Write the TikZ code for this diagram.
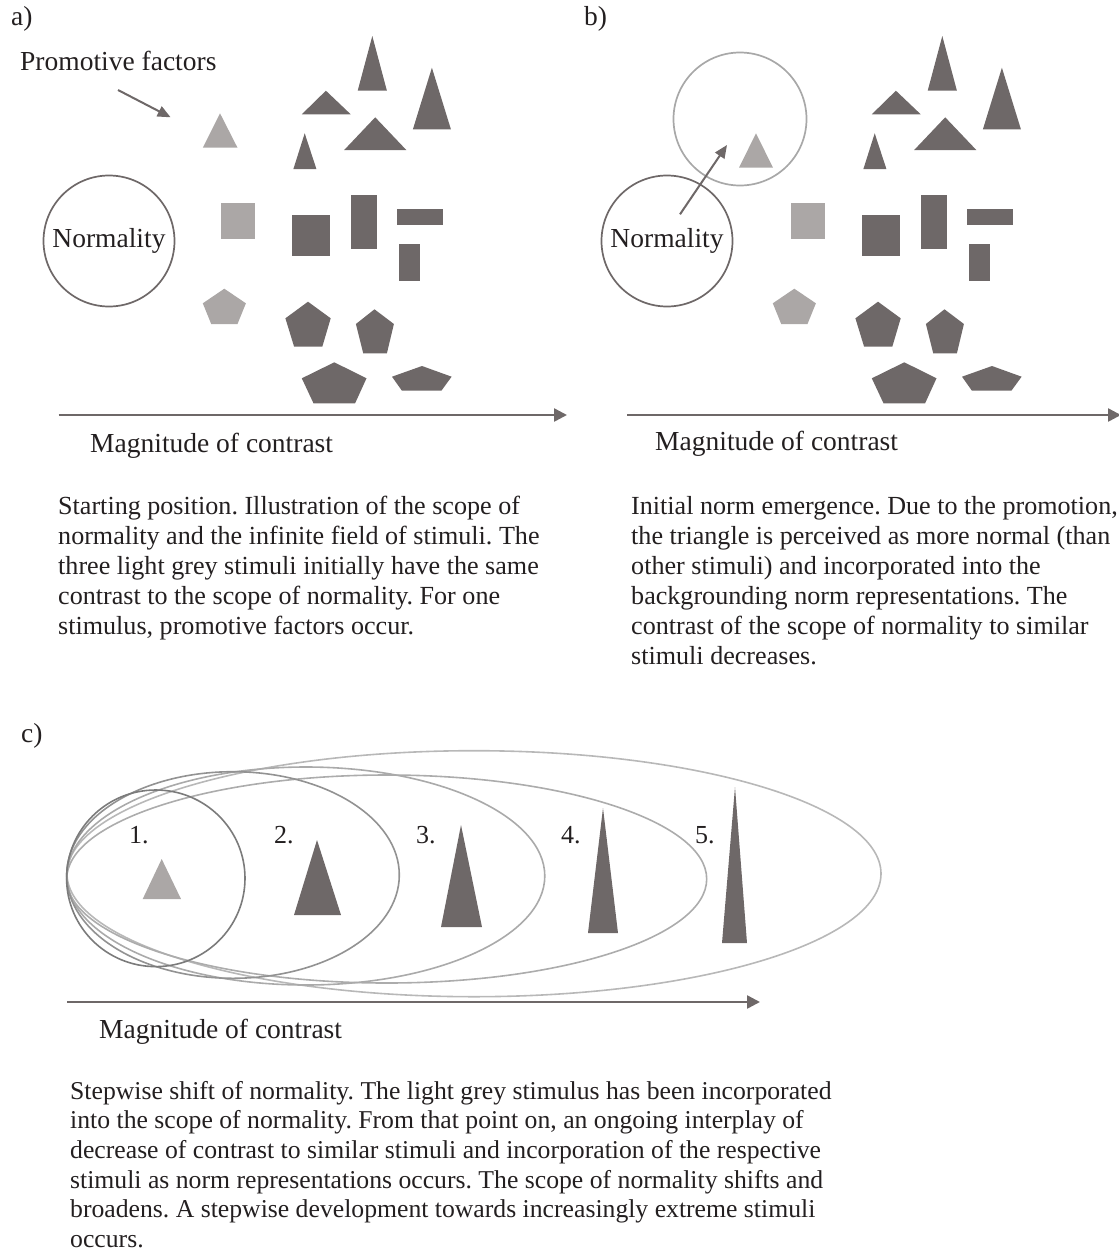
\documentclass[tikz,border=0pt]{standalone}
\usepackage{fontspec}
\setmainfont{Liberation Serif}
\usepackage{tikz}
\usetikzlibrary{arrows.meta,positioning}
\frenchspacing
\definecolor{ink}{HTML}{231F20}
\definecolor{stimdark}{HTML}{6E6868}
\definecolor{stimlight}{HTML}{ABA7A6}
\definecolor{scopegray}{HTML}{A8A8A8}
\definecolor{ringA}{HTML}{7B7B7B}
\definecolor{ringB}{HTML}{929292}
\definecolor{ringC}{HTML}{AAAAAA}
\definecolor{ringD}{HTML}{ACACAC}
\definecolor{ringE}{HTML}{B8B8B8}
\tikzset{
  darkstim/.style={fill=stimdark},
  lightstim/.style={fill=stimlight},
  normscope/.style={draw=stimdark,line width=1.7pt,circle,inner sep=0pt,
                    minimum size=131pt,
                    font=\fontsize{27.5}{30}\selectfont,text=ink},
  shiftscope/.style={draw=scopegray,line width=1.7pt,circle,inner sep=0pt,
                     minimum size=133pt},
  axisarr/.style={-{Triangle[length=13pt,width=13pt]},draw=stimdark,line width=2.5pt},
  pointarr/.style={-{Triangle[length=13pt,width=11pt]},draw=stimdark,line width=2pt},
  ring/.style={draw=#1,line width=1.6pt},
  panellabel/.style={anchor=base west,inner sep=0pt,font=\fontsize{27.5}{30}\selectfont,text=ink},
  axislabel/.style={anchor=base west,inner sep=0pt,font=\fontsize{27.5}{30}\selectfont,text=ink},
  steplabel/.style={anchor=base west,inner sep=0pt,font=\fontsize{26}{30}\selectfont,text=ink},
  caption/.style={anchor=north west,align=left,inner sep=0pt,
                  font=\fontsize{26.1}{30}\selectfont,text=ink}
}
\newcommand\stimfield{%
  \fill[darkstim] (372.3,36) -- (386.9,90.7) -- (357.7,90.7) -- cycle;
  \fill[darkstim] (325.9,90.7) -- (350.7,114.3) -- (301.8,114.3) -- cycle;
  \fill[darkstim] (431.9,67.7) -- (450.9,129.3) -- (412.9,129.3) -- cycle;
  \fill[darkstim] (375.2,117.3) -- (406.3,150) -- (344.2,150) -- cycle;
  \fill[darkstim] (304.7,133.3) -- (316.4,169) -- (293.4,169) -- cycle;
  \fill[lightstim] (221,202.7) rectangle (255.4,239.3);
  \fill[darkstim] (291.6,215) rectangle (329.6,255.7);
  \fill[darkstim] (350.7,195) rectangle (377,248.7);
  \fill[darkstim] (397.2,209) rectangle (443.2,224.7);
  \fill[darkstim] (399,244) rectangle (420.2,280.7);
  \fill[lightstim] (224.3,288.7) -- (245.9,303.3) -- (237.5,324) -- (211.2,324) -- (202.8,303.3) -- cycle;
  \fill[darkstim] (308,301.7) -- (330.7,318.3) -- (322.3,346.7) -- (294.1,346.7) -- (285.4,318.3) -- cycle;
  \fill[darkstim] (374.5,309.3) -- (393.9,324) -- (386.9,353.3) -- (363.2,353.3) -- (355.9,324) -- cycle;
  \fill[darkstim] (334.3,362.3) -- (366.5,378.3) -- (355.1,403.3) -- (313.5,403.3) -- (301.8,378.3) -- cycle;
  \fill[darkstim] (422,366) -- (451.6,376.7) -- (441.4,390.7) -- (401.9,390.7) -- (392,376.7) -- cycle;
}

\begin{document}
\begin{tikzpicture}[x=1pt,y=-1pt]
  \useasboundingbox (0,0) rectangle (1119,1253);

  % a) starting position
  \node[panellabel] (laba) at (11,25) {a)};
  \node[panellabel] (promo) at (20,70) {Promotive factors};
  \coordinate (promotail) at (118,90);
  \coordinate (promotip) at (170.6,117.3);
  \draw[pointarr] (promotail) -- (promotip);
  \fill[lightstim] (220,113.3) -- (237.5,147.7) -- (202.8,147.7) -- cycle;
  \stimfield
  \node[normscope] (norma) at (109,241) {Normality};
  \coordinate (axisa0) at (58.5,415);
  \coordinate (axisa1) at (567,415);
  \draw[axisarr] (axisa0) -- (axisa1);
  \node[axislabel] (magna) at (90,452) {Magnitude of contrast};
  \node[caption] (capa) at (58,496)
    {Starting position. Illustration of the scope of\\
     normality and the infinite field of stimuli. The\\
     three light grey stimuli initially have the same\\
     contrast to the scope of normality. For one\\
     stimulus, promotive factors occur.};

  % b) initial norm emergence
  \node[panellabel] (labb) at (584,25) {b)};
  \begin{scope}[xshift=570pt]
    \stimfield
  \end{scope}
  \node[shiftscope] (shiftb) at (740,119) {};
  \fill[lightstim] (756,133.3) -- (773,167.7) -- (739,167.7) -- cycle;
  \node[normscope] (normb) at (667,241) {Normality};
  \coordinate (shifttail) at (680,214.3);
  \coordinate (shifttip) at (727,145);
  \draw[pointarr] (shifttail) -- (shifttip);
  \coordinate (axisb0) at (627.4,415);
  \coordinate (axisb1) at (1121,415);
  \draw[axisarr] (axisb0) -- (axisb1);
  \node[axislabel] (magnb) at (655,450) {Magnitude of contrast};
  \node[caption] (capb) at (631,496)
    {Initial norm emergence. Due to the promotion,\\
     the triangle is perceived as more normal (than\\
     other stimuli) and incorporated into the\\
     backgrounding norm representations. The\\
     contrast of the scope of normality to similar\\
     stimuli decreases.};

  % c) stepwise shift
  \node[panellabel] (labc) at (21,742) {c)};
  \draw[ring=ringE] (474,873.7) ellipse [x radius=407, y radius=123];
  \draw[ring=ringD] (386.7,879) ellipse [x radius=320, y radius=104];
  \draw[ring=ringC] (305.8,876) ellipse [x radius=239, y radius=109];
  \draw[ring=ringB] (233,875) ellipse [x radius=166.3, y radius=103.3];
  \draw[ring=ringA] (155.8,878.3) ellipse [x radius=89.2, y radius=88.3];
  \fill[lightstim] (161.7,859) -- (181,899) -- (142.7,899) -- cycle;
  \fill[darkstim] (317,840) -- (341,915) -- (294,915) -- cycle;
  \fill[darkstim] (461,825) -- (482,927) -- (441,927) -- cycle;
  \fill[darkstim] (603,808) -- (618,933) -- (588,933) -- cycle;
  \fill[darkstim] (735,787) -- (747,943) -- (722,943) -- cycle;
  \node[steplabel] (step1) at (129,843) {1.};
  \node[steplabel] (step2) at (274,843) {2.};
  \node[steplabel] (step3) at (416,843) {3.};
  \node[steplabel] (step4) at (561,843) {4.};
  \node[steplabel] (step5) at (695,843) {5.};
  \coordinate (axisc0) at (67,1002);
  \coordinate (axisc1) at (760,1002);
  \draw[axisarr] (axisc0) -- (axisc1);
  \node[axislabel] (magnc) at (99,1038) {Magnitude of contrast};
  \node[caption,font=\fontsize{25.7}{29.6}\selectfont] (capc) at (70,1081)
    {Stepwise shift of normality. The light grey stimulus has been incorporated\\
     into the scope of normality. From that point on, an ongoing interplay of\\
     decrease of contrast to similar stimuli and incorporation of the respective\\
     stimuli as norm representations occurs. The scope of normality shifts and\\
     broadens. A stepwise development towards increasingly extreme stimuli\\
     occurs.};
\end{tikzpicture}
\end{document}
